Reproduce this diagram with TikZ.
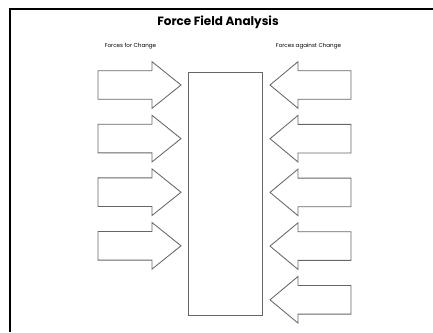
\documentclass[tikz,border=0pt]{standalone}
\usepackage{fontspec}
\setmainfont{Poppins}
\begin{document}
\begin{tikzpicture}[x=1pt,y=-1pt,
  outline/.style={draw=black!60, line width=0.85pt, line join=miter},
  frameline/.style={draw=black, line width=2.2pt},
  heading/.style={font=\fontsize{12}{14}\selectfont\bfseries, inner sep=0pt},
  sidelabel/.style={font=\fontsize{5.6}{7}\selectfont, inner sep=0pt}]
  \useasboundingbox (0,0) rectangle (433,332);
  % page frame (left and top edges)
  \draw[frameline] (10,332) -- (10,9) -- (433,9);
  % title and column headings
  \node[heading] (title) at (218,22.5) {Force Field Analysis};
  \node[sidelabel] (forlbl) at (130.5,46.5) {Forces for Change};
  \node[sidelabel] (againstlbl) at (308.5,46.5) {Forces against Change};
  % central field box
  \node[outline, rectangle, minimum width=74pt, minimum height=243pt,
        inner sep=0pt] (field) at (225.5,193.5) {};
  % driving forces (pointing right)
  \foreach \i in {0,...,3}{
    \pgfmathsetmacro{\c}{85+53.6*\i}
    \coordinate (for\i) at (181,\c);
    \draw[outline] (98,\c-14.3) -- (152,\c-14.3) -- (152,\c-23.3)
      -- (for\i) -- (152,\c+23.3) -- (152,\c+14.3) -- (98,\c+14.3) -- cycle;
  }
  % restraining forces (pointing left)
  \foreach \i in {0,...,4}{
    \pgfmathsetmacro{\c}{85+53.7*\i}
    \coordinate (against\i) at (270,\c);
    \draw[outline] (351,\c-14.3) -- (298,\c-14.3) -- (298,\c-23.3)
      -- (against\i) -- (298,\c+23.3) -- (298,\c+14.3) -- (351,\c+14.3) -- cycle;
  }
\end{tikzpicture}
\end{document}
